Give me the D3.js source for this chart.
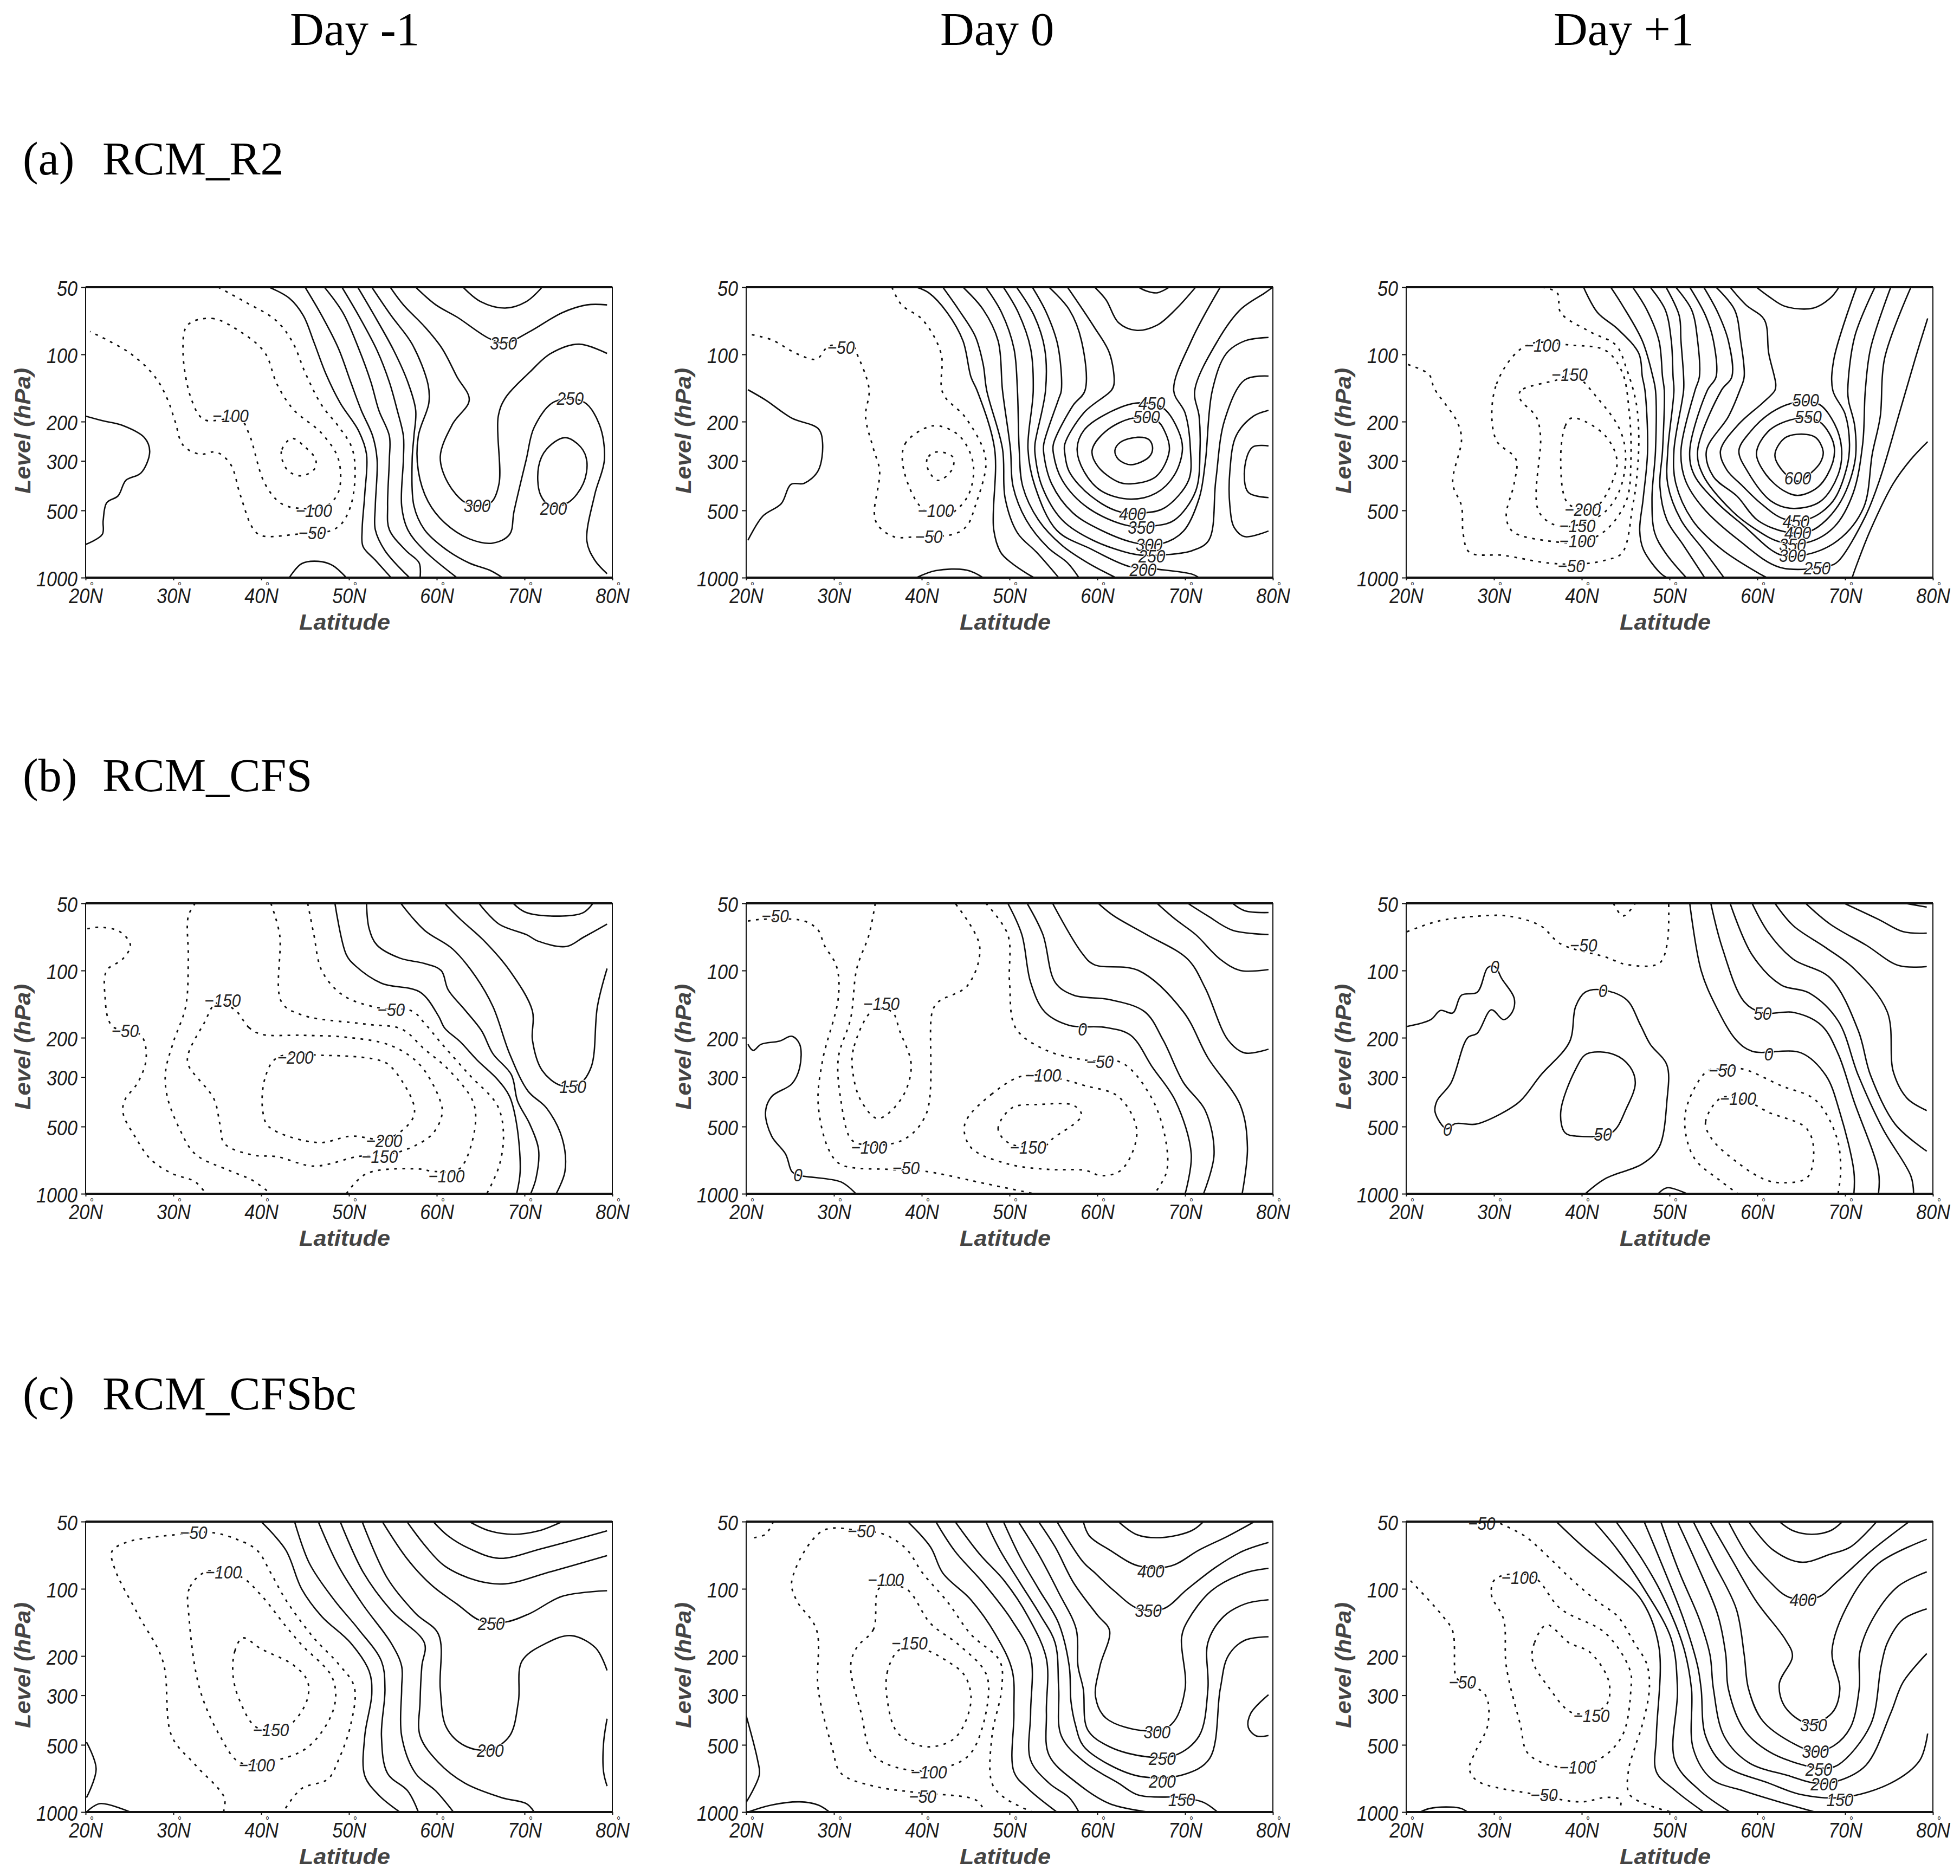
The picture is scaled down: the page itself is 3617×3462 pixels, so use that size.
<!DOCTYPE html>
<html>
<head>
<meta charset="utf-8">
<script src="https://cdn.jsdelivr.net/npm/d3@7"></script>
<style>
  html, body { margin: 0; padding: 0; background: #fff; }
  svg { display: block; }
</style>
</head>
<body>
<div id="chart"></div>
<script>
const dayLabels = ["Day -1", "Day 0", "Day +1"];
const rowLabels = ["(a)", "(b)", "(c)"];
const runLabels = ["RCM_R2", "RCM_CFS", "RCM_CFSbc"];
const levelTicks = [50, 100, 200, 300, 500, 1000];
const latTicks = [20, 30, 40, 50, 60, 70, 80];

// contours are [latitude, level hPa]
const a1Solid = [
  [[20,189],[21.9,198],[24.2,208],[26.7,236],[27.3,273],[26.3,340],[24.6,366],[23.7,430],[22.4,462],[22,555],[21.9,640],[20,710]],
  [[43.2,1000],[44.6,866],[46.5,845],[48.1,880],[49.7,1000]],
  [[40.9,50],[43.2,56],[44.8,67],[46,88],[47.4,123],[49,165],[51.1,220],[52,280],[51.8,422],[51.5,610],[51.6,725],[53,835],[54.8,1000]],
  [[45,50],[46.9,67],[48.8,94],[50.2,133],[51.4,178],[52.7,232],[53.2,295],[53,477],[53,610],[54.1,757],[56.9,1000]],
  [[47.2,50],[49.3,65],[51.1,94],[52.5,133],[53.4,178],[54.6,232],[54.6,295],[54.4,477],[54.6,610],[56.5,757],[58,860],[58.1,1000]],
  [[49.2,50],[51.1,67],[53.2,96],[54.6,133],[55.5,178],[56.2,232],[56.2,295],[56,477],[56.7,610],[58.6,757],[62.3,1000]],
  [[51,50],[52.7,65],[55.1,96],[56.7,133],[57.6,178],[57.4,232],[57.2,295],[57.4,477],[58.6,610],[60.9,740],[63.7,860],[66,925],[67.5,1000]],
  [[52.6,50],[54.8,67],[57.2,90],[59,136],[59.1,165],[57.9,232],[57.9,333],[59,455],[60.9,568],[63.7,670],[66.4,700],[68.3,640],[68.8,505],[70.2,295],[71.1,212],[73.4,163],[76.7,163],[78.5,205],[79.1,295],[78,424],[77.1,685],[78,835],[79.4,960]],
  [[54.7,50],[56.2,60],[58.6,75],[60.6,94],[62.3,126],[63.7,160],[61.8,205],[60.4,287],[61.3,378],[63.2,460],[64.6,477],[66.2,460],[67.1,378],[67,190],[67.8,157],[70.6,120],[73,99],[76.2,90],[79.4,99]],
  [[57.6,50],[59.9,60],[62.3,68],[66,85],[67.8,89],[70.6,79],[74.3,65],[77.1,60],[79.4,60]],
  [[63,50],[65,58],[67.8,62],[70.2,58],[72,50]]
];
const a1SolidLoops = [
  [[74.6,236],[72.5,266],[71.6,318],[71.8,424],[73,477],[75,460],[76.7,378],[77.1,302],[76.4,260]]
];
const a1Dotted = [
  [[35.1,50],[38.1,58],[41.6,70],[43.5,87],[45.1,123],[46.9,169],[48.8,210],[50.3,260],[50.7,333],[50.2,477],[49,582],[47.4,625],[44.6,636],[40,648],[39,597],[37.6,424],[36.5,310],[34.9,274],[33,280],[31.1,255],[30.2,200],[29.3,158],[27.9,126],[25.1,99],[20.5,79]]
];
const a1DottedLoops = [
  [[31.6,74],[34.4,69],[37.6,79],[40.4,98],[41.8,136],[43.7,177],[46.9,226],[48.8,295],[48.8,414],[47.4,477],[44.6,490],[42.3,466],[40.4,378],[38.6,226],[37.6,195],[33.5,196],[32.1,161],[31.1,98]],
  [[43.5,238],[42.3,272],[43,330],[44.6,350],[46.1,325],[46.2,295],[45,260]]
];
const a1Labels = [[67.6,89,"350"],[75.2,157,"250"],[64.6,477,"300"],[73.3,490,"200"],[36.5,188,"−100"],[46,500,"−100"],[45.8,630,"−50"]];

const a2Solid = [
  [[20.2,144],[22.2,160],[25.2,193],[28.2,215],[28.7,248],[28.2,332],[26.6,378],[25.1,382],[24,466],[21.9,530],[20.2,680]],
  [[39.4,1000],[41.6,930],[45.1,925],[47,1000]],
  [[39.4,50],[40.8,53],[42.9,65],[44.7,87],[45.6,126],[46.3,145],[48.3,265],[48.2,610],[49,771],[50.2,858],[52,960],[52.8,1000]],
  [[42.4,50],[44.2,63],[46.1,83],[47,111],[47.4,145],[49.2,265],[49.5,441],[50.9,630],[53.1,771],[55.6,1000]],
  [[44.7,50],[47,63],[48.7,87],[49.2,145],[50.1,265],[50.4,390],[51.9,552],[54.4,735],[56.6,858],[57.9,1000]],
  [[47.3,50],[49.1,65],[50.5,94],[50.9,145],[51.1,265],[51.5,390],[53.3,552],[56,718],[58.9,858],[62.1,1000]],
  [[49.3,50],[51,65],[52.4,94],[52.7,145],[52.1,265],[52.9,390],[55.4,615],[59.3,745],[63.6,890],[66.7,915],[70.8,965],[71.6,1000]],
  [[50.8,50],[52.8,67],[54,94],[54.1,145],[52.9,252],[52.9,278],[53.7,390],[56,552],[59.5,680],[64.6,790],[67.7,790],[70.8,757],[72.7,680],[73.5,366],[74.5,197],[76.8,130],[79.5,125]],
  [[52.6,50],[54.2,65],[55.5,91],[55.9,145],[55.6,158],[53.9,252],[53.9,278],[54.8,380],[57.2,512],[60.5,615],[64.4,700],[67.3,705],[69.8,620],[71.6,441],[72.3,304],[73.1,145],[74.7,99],[76.8,87],[79.5,84]],
  [[54.5,50],[56.8,63],[58.2,87],[58.6,145],[57.2,170],[55,252],[55,278],[56,366],[58.9,486],[63.5,585],[66.7,585],[68.8,552],[71.2,410],[71.7,265],[71.6,190],[71.1,145],[73.7,87],[76.3,63],[79.1,53],[80,50]],
  [[56.6,50],[59.6,75],[61.4,99],[61.9,136],[61.6,145],[58.5,182],[56.3,252],[56.3,278],[56.8,335],[59.3,432],[62.6,508],[65.5,512],[67.7,486],[70.4,366],[70.6,265],[70,183],[68.7,145],[70.7,87],[74,50]],
  [[59.7,50],[61,57],[62.4,72],[64.4,78],[66.8,74],[68.9,63],[71.2,50]],
  [[64.7,50],[65.6,52],[66.8,53],[68.2,50]],
  [[79.5,178],[77.7,190],[75.8,232],[75.1,333],[75.1,477],[75.6,597],[76.8,655],[79.5,618]],
  [[79.5,257],[77.7,260],[76.8,318],[77.2,415],[79.5,438]]
];
const a2SolidLoops = [
  [[62,270],[62.6,248],[64.6,235],[65.9,241],[66.3,263],[65.9,288],[63.8,312],[62.4,295]],
  [[59.4,270],[60.1,319],[62.4,373],[63.8,380],[66.7,352],[68.2,270],[67.7,222],[66.7,197],[64,193],[60.9,222]],
  [[57.7,265],[58.5,335],[60.5,410],[63.8,445],[66.7,418],[68.8,346],[69.7,265],[69.2,218],[67.5,174],[64.6,165],[61.6,180],[58.5,218]]
];
const a2Dotted = [
  [[36.6,50],[37.7,60],[40.1,70],[42.2,99],[42.4,149],[44.9,190],[47,265],[47.3,318],[46.1,477],[45.2,582],[43.8,636],[39.6,655],[36.8,655],[35,582],[34.6,515],[35.2,333],[34.5,265],[33.6,190],[34,143],[32.6,99],[32.2,92],[29.4,92],[28,105],[25.7,99],[22.9,86],[20.2,81]]
];
const a2DottedLoops = [
  [[41.2,209],[38.2,248],[37.8,302],[39.1,435],[40.5,505],[42.9,525],[45.2,435],[45.9,318],[44.9,248],[43.5,220]],
  [[41.5,274],[40.6,295],[40.8,333],[41.9,367],[43.5,325],[43.5,287]]
];
const a2Labels = [[30.8,93,"−50"],[66.2,165,"450"],[65.6,190,"500"],[64,518,"400"],[65,595,"350"],[65.9,710,"300"],[66.2,798,"250"],[65.2,920,"200"],[41.6,500,"−100"],[40.8,655,"−50"]];

const a3Solid = [
  [[40.2,50],[41.8,65],[44.1,77],[46.5,99],[46.9,126],[47.2,145],[47.5,270],[47,441],[46.6,615],[47,745],[48.9,950],[49.7,1000]],
  [[43.3,50],[44.6,60],[46.9,87],[48.1,126],[48.4,145],[48.4,270],[48,441],[48.3,628],[49.5,771],[51.9,1000]],
  [[45.8,50],[47.4,63],[48.8,87],[49.2,126],[49.4,145],[49.2,270],[48.9,390],[49.7,552],[51.6,718],[54,1000]],
  [[47.8,50],[49.5,63],[50.2,87],[50.4,126],[50.5,145],[49.8,270],[49.8,383],[51.3,552],[53.8,745],[56.2,1000]],
  [[49.6,50],[51.1,67],[51.3,87],[51.6,126],[51.6,145],[50.5,270],[50.7,377],[52.6,552],[55.9,745],[60.4,968],[61.1,1000]],
  [[50.7,50],[52.5,63],[53.2,87],[53.4,126],[52.9,145],[51.3,270],[51.8,366],[53.8,486],[57.9,680],[62.6,900],[68.2,885],[69.2,845],[72.3,532],[74,358],[76.2,182],[78,104],[79.4,69]],
  [[52.3,50],[54.1,67],[55,87],[55.3,126],[54.3,145],[52.3,270],[52.8,346],[55.5,465],[58.3,578],[62.6,790],[65.5,790],[69.2,680],[72.1,486],[73.1,278],[74,190],[74.5,104],[77.5,50]],
  [[53.9,50],[55.5,65],[56.7,87],[57.1,126],[55.9,145],[53.2,270],[53.8,346],[57.1,502],[59.6,600],[62.6,692],[65.9,692],[68.8,590],[70.9,420],[72,252],[72.3,145],[72.9,94],[75.2,50]],
  [[55.3,50],[57.4,63],[58.1,87],[58.5,126],[58,145],[56.7,190],[54.2,270],[55,353],[57.7,432],[60,552],[63.3,625],[66.1,618],[69.2,476],[71.1,304],[71.1,210],[70.4,162],[70.3,145],[71.1,83],[73.4,50]],
  [[56.9,50],[58.7,60],[60.8,70],[61.3,99],[62.1,136],[62,145],[60.6,165],[57.9,205],[55.8,270],[56.5,328],[58.3,388],[60.4,465],[63,545],[65.9,545],[68.6,455],[70.2,320],[70.5,252],[70,185],[68.6,145],[68.7,106],[71.3,50]],
  [[59.9,50],[61.3,55],[63.2,61],[66.4,62],[68.3,56],[69.3,50]],
  [[70.8,1000],[71.3,880],[72.9,610],[75.5,378],[77.5,295],[79.4,246]]
];
const a3SolidLoops = [
  [[57.9,270],[58.9,335],[61.6,455],[64.1,490],[67.2,455],[69.2,346],[69.6,265],[68.8,205],[67,167],[64.1,165],[61.6,182],[59.2,222]],
  [[59.9,278],[61,346],[63.1,410],[64.7,428],[67,390],[68.6,304],[68.7,252],[67.4,205],[66.1,193],[63.7,197],[61.2,222]],
  [[62,283],[63.1,340],[64.7,370],[66.1,340],[67.2,304],[67.5,272],[66.6,235],[64.5,228],[63,239]]
];
const a3Dotted = [
  [[35.5,50],[37.2,53],[37.6,65],[40.9,79],[43.9,91],[45.1,116],[46.2,165],[46.5,242],[46.2,378],[45.8,477],[44.6,775],[42.7,835],[40,868],[36.2,860],[31.1,795],[27.2,770],[26.5,640],[26.3,477],[25.3,378],[26.3,240],[25.8,200],[23.2,142],[22.6,123],[20.2,111]]
];
const a3DottedLoops = [
  [[33.7,91],[30.2,139],[30.2,240],[32.5,295],[32.3,378],[31.4,530],[32.1,620],[36.2,685],[40,690],[42.7,615],[45.1,450],[45.6,295],[45.4,180],[44.6,120],[42.7,96],[38.9,91]],
  [[37.2,130],[33,146],[33,159],[34.8,190],[35.3,232],[35.1,505],[37.6,590],[42,530],[44.1,424],[45,295],[44.4,220],[41.8,157],[39,123]],
  [[38.8,193],[38.1,210],[37.6,295],[38.3,458],[40,495],[41.8,477],[43.9,333],[43.9,283],[42.7,232],[40.4,200]]
];
const a3Labels = [[35.5,91,"−100"],[38.6,123,"−150"],[65.5,160,"500"],[65.8,190,"550"],[64.6,358,"600"],[64.4,560,"450"],[64.6,630,"400"],[64,710,"350"],[64,795,"300"],[66.8,905,"250"],[40.1,495,"−200"],[39.5,585,"−150"],[39.5,685,"−100"],[38.8,885,"−50"]];

const b1Solid = [
  [[48.4,50],[49.7,85],[50.7,95],[53.7,114],[58.1,125],[60.2,160],[60.9,181],[62.7,209],[64.6,252],[66.9,307],[68.3,367],[69.1,488],[69.5,795],[69.1,1000]],
  [[52,50],[52.3,65],[53.2,77],[55.8,88],[58.6,93],[60.5,100],[61.3,122],[63.2,150],[65.1,186],[66.4,236],[68.5,293],[69.2,384],[70.6,488],[71.6,636],[71.3,855],[70.7,1000]],
  [[55.9,50],[58.6,66],[61.8,80],[64.4,106],[66.4,145],[68.3,236],[70.4,347],[72.5,413],[74.3,567],[74.6,795],[73.6,1000]],
  [[60.9,50],[62.7,59],[65.3,73],[68.3,100],[70.9,152],[70.9,205],[72,280],[74.1,327],[76.2,323],[77.6,270],[78.3,145],[79.4,98]],
  [[64.8,50],[67.1,62],[70.2,69],[71.6,74],[74.8,78],[76.7,71],[79.4,62]],
  [[68.7,50],[70.2,55],[74.3,57],[76.7,55],[77.8,50]]
];
const b1SolidLoops = [];
const b1Dotted = [
  [[20.2,65],[21.6,64],[23.9,67],[25.1,77],[24.2,89],[22.4,100],[22.2,129],[23,177],[26.3,195],[26.9,247],[26,315],[24.4,385],[24.3,441],[25.6,552],[27.4,700],[29.8,810],[32.5,885],[33.7,1000]],
  [[32.5,50],[31.7,57],[31.7,89],[31.4,145],[30,209],[29.1,285],[29.3,367],[30.7,512],[32.5,665],[36.3,785],[39,870],[41.1,1000]],
  [[45.3,50],[46,69],[46.9,100],[49.3,129],[53.4,147],[57.2,152],[58.6,172],[60.4,209],[63.7,293],[66.9,402],[67.6,540],[67.1,752],[65.7,1000]],
  [[41.1,50],[42.1,69],[42.3,138],[44.6,158],[52,174],[56,183],[58.6,225],[61.3,277],[64.1,384],[64.4,488],[63.2,720],[62.3,785],[59.5,793],[58.1,775],[52,812],[49.7,1000]]
];
const b1DottedLoops = [
  [[37,150],[38.6,180],[40,193],[44.6,195],[49.7,199],[54.8,217],[58.1,265],[60.4,384],[60.6,441],[59.5,540],[56.7,630],[53.9,670],[51.1,680],[46,752],[41.8,682],[39,670],[35.8,595],[35.3,488],[34.6,375],[31.7,265],[31.7,236],[33.5,172],[34.9,140]],
  [[41.8,246],[40.4,307],[40.2,432],[40.9,502],[46.5,590],[50.2,552],[54.4,567],[57.2,465],[57.4,402],[54.8,270],[53.4,252],[47.4,240]]
];
const b1Labels = [[24.5,186,"−50"],[35.6,136,"−150"],[54.8,150,"−50"],[43.9,244,"−200"],[75.5,330,"150"],[54,578,"−200"],[53.5,682,"−150"],[61.1,830,"−100"]];

const b2Solid = [
  [[20.2,214],[20.8,228],[21.7,214],[23.8,207],[25.2,197],[26.1,214],[26.1,272],[25.2,322],[22.9,367],[22.2,432],[22.9,552],[24.5,665],[25.2,795],[25.9,825],[30.8,885],[32.5,1000]],
  [[49.8,50],[51.4,69],[52.4,113],[54,153],[56.8,176],[61,180],[63.8,195],[66.3,272],[68.9,384],[70.7,665],[70,1000]],
  [[52,50],[53.8,69],[55.2,113],[57.3,129],[61.4,135],[65.4,153],[67.5,205],[69.8,317],[72.3,424],[73.3,665],[72.1,1000]],
  [[54.9,50],[58.2,83],[59.6,94],[64.7,100],[69.8,153],[72.6,246],[76.3,402],[77.1,620],[76.5,1000]],
  [[60.1,50],[61.9,57],[65.6,69],[70.3,89],[72.3,120],[74.9,205],[76.8,234],[79.5,225]],
  [[66.8,50],[68.9,59],[71.2,69],[74,89],[76.3,100],[79.5,99]],
  [[70.3,50],[72.6,57],[75.4,66],[79.5,69]],
  [[75.4,50],[76.8,54],[79.5,55]]
];
const b2SolidLoops = [];
const b2Dotted = [
  [[20.2,60],[21.7,59],[26.6,60],[28.2,66],[28.9,77],[30.3,96],[30.5,132],[28.7,253],[28.2,395],[29.4,634],[30.8,740],[36.3,778],[40.1,790],[47.5,905],[52.8,1000]],
  [[34.7,50],[34,69],[32.6,98],[31.9,164],[30.5,246],[30.8,384],[31.9,567],[33.1,600],[37.7,578],[40.5,440],[41.2,153],[41.9,138],[45.2,117],[46.6,78],[43.8,50]],
  [[47.3,50],[49.8,69],[50,113],[50.7,181],[54,226],[58.6,252],[62.8,259],[66.1,367],[67.7,552],[67.9,795],[66.5,1000]]
];
const b2DottedLoops = [
  [[34.5,150],[32.2,226],[32.2,295],[33.1,384],[35,460],[37.7,374],[38.8,266],[37.5,187],[36.6,153]],
  [[51.7,295],[48,357],[44.9,488],[45.6,620],[49.8,735],[54.5,778],[58.6,785],[60.5,830],[62.8,778],[64.5,525],[62.4,367],[58.6,328],[55.6,305]],
  [[50,595],[48.7,512],[50.3,412],[53.5,398],[57.3,402],[58.2,446],[54.9,567],[54,610]]
];
const b2Labels = [[23.3,57,"−50"],[35.4,141,"−150"],[58.3,183,"0"],[60.3,256,"−50"],[53.8,295,"−100"],[34,620,"−100"],[52.1,620,"−150"],[38.2,765,"−50"],[25.9,825,"0"]];

const b3Solid = [
  [[20.1,178],[22.8,166],[23.9,151],[25.3,155],[26.3,129],[28.1,125],[29.3,97],[30.1,96],[30.9,109],[32.3,133],[32.1,153],[31.1,166],[29.7,150],[28.1,191],[27,200],[25.1,319],[23.5,384],[23.3,432],[24.6,512],[25.6,485],[27.9,488],[30.7,440],[33,384],[35.3,295],[38.6,209],[39.3,145],[40.4,125],[42.3,122],[45.1,135],[46.7,176],[47.8,214],[49.7,265],[49.7,384],[48.8,620],[46.9,735],[42.7,855],[40.4,1000]],
  [[48.7,1000],[49.7,940],[52,1000]],
  [[52.3,50],[53.6,100],[55.3,145],[57.6,205],[59.4,230],[65,234],[67.8,295],[69.4,432],[71,795],[71,1000]],
  [[54.7,50],[56,79],[58.5,138],[60.6,155],[64.1,154],[67.3,176],[69.2,236],[71,384],[73.8,795],[73.8,1000]],
  [[56.9,50],[59.4,85],[62.7,116],[65.9,126],[69.2,168],[71.5,295],[74.3,512],[77.5,835],[77.8,1000]],
  [[59.4,50],[61.3,68],[64.1,89],[68.3,108],[71.5,186],[72.9,295],[75.7,488],[79.3,645]],
  [[62,50],[64.1,63],[67.8,79],[71,98],[74.8,153],[75.5,285],[77.1,375],[79.3,424]],
  [[65.5,50],[68.3,62],[72.4,77],[76.1,95],[79.3,96]],
  [[69.9,50],[73.8,59],[76.6,67],[79.3,68]],
  [[76.8,50],[79.3,52]]
];
const b3SolidLoops = [
  [[40.6,236],[39.3,277],[37.6,432],[38.1,533],[39.5,552],[43.4,533],[45.1,413],[46.1,319],[45.5,270],[43.7,238]]
];
const b3Dotted = [
  [[20.1,67],[23.7,60],[28.4,57],[31.6,57],[35.3,63],[37.6,76],[42.7,87],[45.1,94],[48.8,93],[49.7,77],[49.9,50]],
  [[43.6,50],[44.7,57],[46.1,50]],
  [[69.2,1000],[69.5,778],[69,552],[66.6,380],[62.7,328],[58.3,276],[56,277],[54.3,282],[52,402],[51.8,525],[52.9,700],[55.7,870],[57.8,1000]]
];
const b3DottedLoops = [
  [[56,370],[54.1,477],[54.8,567],[57.6,718],[60.8,862],[62.9,893],[65.7,845],[66.4,620],[65.5,505],[61.3,432],[59.4,395]]
];
const b3Labels = [[40.2,77,"−50"],[30.1,96,"0"],[42.4,123,"0"],[60.6,156,"50"],[61.3,237,"0"],[56,280,"−50"],[57.8,375,"−100"],[24.7,515,"0"],[42.4,540,"50"]];

const c1Solid = [
  [[20.1,486],[21.2,641],[20.1,862]],
  [[20.1,1000],[21.6,917],[25.1,1000]],
  [[40,50],[42.8,67],[44.6,100],[46.9,133],[50.2,175],[52.3,234],[52.6,295],[51.8,456],[51.8,688],[53.4,840],[55.8,1000]],
  [[43.8,50],[45.5,77],[48.3,112],[51.1,152],[53.7,211],[54.1,281],[53.7,456],[54.4,672],[56.7,805],[57.9,1000]],
  [[46.5,50],[48.8,79],[51.6,118],[54.8,175],[56,222],[56,281],[56,456],[57.6,672],[59.9,805],[61.9,1000]],
  [[49,50],[51.6,84],[54.8,125],[58.6,175],[58.3,222],[58.1,320],[58.1,456],[60.2,600],[63.2,742],[67.4,862],[70.2,917],[71.1,1000]],
  [[51.5,50],[54.4,90],[57.6,129],[60.2,160],[60.4,281],[61.1,418],[63.2,505],[66,526],[68.3,456],[69.3,320],[69.7,211],[72.5,175],[75.3,162],[78.1,184],[79.4,232]],
  [[53.8,50],[56.7,74],[59.5,97],[62.3,117],[65,139],[67.8,141],[70.6,129],[74.3,108],[79.4,102]],
  [[56.6,50],[58.8,65],[60.9,79],[64.6,92],[67.8,95],[72.9,84],[79.4,71]],
  [[59.6,50],[61.3,58],[63.7,66],[67.1,73],[72,66],[79.4,55]],
  [[63.7,50],[66,55],[68.8,57],[71.6,55],[74.3,50]],
  [[79.4,382],[79,492],[79,660],[79.4,765]]
];
const c1SolidLoops = [];
const c1Dotted = [
  [[35.7,1000],[35.8,862],[32.5,615],[29.8,456],[28.8,211],[26,131],[23.3,81],[23,68],[24.6,62],[30.7,57],[34.4,56],[37.2,60],[39.5,67],[41.1,85],[42.8,112],[46,166],[48.8,217],[50.6,275],[50.2,406],[48.8,585],[47.6,712],[44.6,785],[42.5,1000]]
];
const c1DottedLoops = [
  [[33.7,84],[31.8,100],[31.8,137],[33,281],[35.3,456],[37.6,600],[41.8,585],[45.5,505],[48.3,340],[48.1,250],[44.6,178],[42.8,147],[40,107],[37.6,88]],
  [[37.9,166],[37,190],[36.8,246],[37.6,320],[39.5,418],[42.8,418],[45.1,325],[45.3,261],[43.7,220],[40,186]]
];
const c1Labels = [[32.3,56,"−50"],[35.7,84,"−100"],[41.1,428,"−150"],[39.5,615,"−100"],[66.2,143,"250"],[66.1,530,"200"]];

const c2Solid = [
  [[20,370],[21.3,585],[21.5,680],[20,905]],
  [[20.2,1000],[22.9,930],[26.1,900],[28.2,930],[29.5,1000]],
  [[38.4,50],[41,65],[42.4,85],[45.6,112],[48.4,160],[50.3,232],[50.5,360],[50.5,660],[52.1,785],[55.4,1000]],
  [[41.6,50],[43.8,68],[47,94],[50.3,139],[52.4,200],[52.4,360],[52.4,585],[54.5,742],[56.8,862],[57.9,1000]],
  [[43.8,50],[46.6,70],[49.4,92],[52.1,133],[54.2,206],[54.2,360],[54.5,556],[57.7,742],[61.4,917],[65.8,1000]],
  [[47.3,50],[48.9,67],[51.2,94],[53.5,131],[55.2,175],[55.6,281],[55.9,456],[58.6,600],[62.4,742],[64.7,840],[69.8,862],[72.1,905],[73.7,1000]],
  [[49.3,50],[51.2,72],[53.3,100],[55.6,143],[56.8,222],[57,320],[57.5,406],[58.4,505],[61.4,615],[65.1,695],[69.8,680],[72.8,575],[74,281],[74.9,200],[76.8,170],[79.5,164]],
  [[51,50],[53.3,70],[55.6,104],[57.6,152],[57.8,222],[58.4,281],[58.9,428],[61.4,510],[65.6,565],[68.9,556],[71.6,456],[72.6,281],[72.6,174],[74.4,133],[76.8,117],[79.5,112]],
  [[53.3,50],[55.2,65],[57.3,94],[60,131],[61.4,154],[60.3,222],[59.8,305],[61,380],[65.6,433],[68.4,406],[70,281],[69.6,165],[70.3,139],[73,102],[76.8,85],[79.5,81]],
  [[55.4,50],[58.4,76],[59.6,84],[61.9,102],[64.7,123],[67.5,123],[70.3,100],[73.5,80],[76.5,68],[79.5,62]],
  [[58.4,50],[59.1,58],[61.4,67],[64.7,79],[68.4,79],[71.6,67],[74.9,58],[77.9,50]],
  [[62.4,50],[64.4,57],[67.2,59],[70.7,55],[72.1,50]],
  [[79.5,298],[77.5,360],[77.2,418],[78.1,456],[79.5,454]]
];
const c2SolidLoops = [];
const c2Dotted = [
  [[20.9,59],[22.2,57],[23.1,50]],
  [[46.9,950],[46.1,880],[39.1,815],[34.5,765],[30.8,670],[29.8,515],[28.2,281],[28,152],[25.7,112],[25.2,92],[28.7,55],[33.1,55],[35.7,57],[38.2,66],[40.1,85],[42.9,114],[45.6,160],[48.9,211],[49.1,281],[48,456],[48,742],[49.4,862],[52.6,1000]]
];
const c2DottedLoops = [
  [[35.2,99],[34.5,152],[32.6,183],[31.9,222],[33.1,360],[34.5,556],[38.7,650],[42.9,628],[45.6,544],[47.5,325],[47.3,239],[44.2,178],[41,143],[38.2,100]],
  [[37.5,187],[36.1,234],[36.1,320],[37.3,444],[40.5,510],[43.8,465],[45.6,320],[44.9,245],[42.9,211],[40.1,186]]
];
const c2Labels = [[33.1,55,"−50"],[35.9,91,"−100"],[38.6,175,"−150"],[66.1,83,"400"],[65.8,125,"350"],[66.8,437,"300"],[67.4,575,"250"],[67.4,728,"200"],[69.6,880,"150"],[40.8,660,"−100"],[40.1,850,"−50"]];

const c3Solid = [
  [[21.6,1000],[22.6,965],[25.1,950],[26.3,965],[27,1000]],
  [[37.1,50],[40,64],[43.7,85],[46.9,114],[48.8,183],[48.5,456],[48.5,660],[50.6,798],[53.9,1000]],
  [[41.4,50],[44.1,67],[47.1,100],[50.2,168],[50.9,281],[50.6,587],[53.4,798],[56.9,1000]],
  [[43.9,50],[46.9,74],[49.2,107],[51.6,183],[52.5,281],[52.7,520],[54.8,712],[58.5,805],[62.7,905],[66.6,1000]],
  [[47.1,50],[49.2,79],[51.6,137],[53.2,222],[53.6,281],[54.1,456],[56.2,615],[61.3,742],[65,835],[69.7,860],[75.2,742],[78.5,587],[79.4,445]],
  [[49,50],[51.1,84],[53.4,137],[54.6,197],[55,281],[56.2,456],[59,600],[63.6,688],[66.6,742],[69.2,725],[72.4,615],[75.2,360],[76.6,262],[79.3,195]],
  [[50.9,50],[53.2,79],[55.5,131],[56.4,197],[56.7,281],[58.5,428],[61.3,535],[65.5,620],[67.3,636],[69.2,615],[72.9,406],[74.1,222],[74.8,175],[76.6,137],[79.3,123]],
  [[52.7,50],[55,76],[57.6,123],[58.5,197],[59,281],[60.6,390],[64.1,493],[66.6,535],[68.7,505],[70.6,418],[71.6,281],[71.7,190],[73.4,131],[76.1,97],[79.3,84]],
  [[54.6,50],[57.1,74],[59.9,114],[63.2,169],[64,200],[62.5,267],[63.2,340],[65.9,402],[68.5,360],[69.4,281],[68.5,190],[70.6,112],[73.8,77],[79.3,60]],
  [[56.7,50],[59,72],[61.3,92],[63.6,109],[66.9,109],[69.2,92],[72.9,68],[77.3,50]],
  [[59,50],[61.8,67],[65,76],[68.3,70],[70.6,65],[73.6,50]],
  [[62.5,50],[64.1,55],[66.2,57],[68.3,55],[69.7,50]]
];
const c3SolidLoops = [];
const c3Dotted = [
  [[20.5,92],[24.2,133],[25.3,155],[25.7,250],[26.3,260],[29,298],[29.3,406],[27.9,535],[27.2,640],[28.1,725],[34.4,830],[40,900],[42.7,860],[44.4,880],[44.4,950]],
  [[30.7,51],[33.5,58],[36.2,72],[39,92],[41.8,114],[44.1,133],[46,175],[47.4,217],[47.7,281],[46.9,406],[46,520],[45.3,660],[45.5,840],[50.2,1000]]
];
const c3DottedLoops = [
  [[30.2,90],[29.7,106],[31.1,137],[31.4,222],[33,406],[33.9,548],[37.6,630],[41.8,585],[44.6,456],[45.6,281],[45.5,232],[42.7,158],[37.6,123],[34.4,88]],
  [[36,145],[34.6,175],[34.4,210],[36.2,275],[39,360],[42.7,335],[43.1,262],[40.9,192],[38.6,175]]
];
const c3Labels = [[28.6,51,"−50"],[32.9,89,"−100"],[65.2,112,"400"],[26.4,262,"−50"],[41.1,370,"−150"],[66.4,406,"350"],[66.6,535,"300"],[67,645,"250"],[67.6,750,"200"],[69.4,880,"150"],[39.5,630,"−100"],[35.7,835,"−50"]];

const panels = [
  {col: 0, row: 0, solid: a1Solid, solidLoops: a1SolidLoops, dotted: a1Dotted, dottedLoops: a1DottedLoops, labels: a1Labels},
  {col: 1, row: 0, solid: a2Solid, solidLoops: a2SolidLoops, dotted: a2Dotted, dottedLoops: a2DottedLoops, labels: a2Labels},
  {col: 2, row: 0, solid: a3Solid, solidLoops: a3SolidLoops, dotted: a3Dotted, dottedLoops: a3DottedLoops, labels: a3Labels},
  {col: 0, row: 1, solid: b1Solid, solidLoops: b1SolidLoops, dotted: b1Dotted, dottedLoops: b1DottedLoops, labels: b1Labels},
  {col: 1, row: 1, solid: b2Solid, solidLoops: b2SolidLoops, dotted: b2Dotted, dottedLoops: b2DottedLoops, labels: b2Labels},
  {col: 2, row: 1, solid: b3Solid, solidLoops: b3SolidLoops, dotted: b3Dotted, dottedLoops: b3DottedLoops, labels: b3Labels},
  {col: 0, row: 2, solid: c1Solid, solidLoops: c1SolidLoops, dotted: c1Dotted, dottedLoops: c1DottedLoops, labels: c1Labels},
  {col: 1, row: 2, solid: c2Solid, solidLoops: c2SolidLoops, dotted: c2Dotted, dottedLoops: c2DottedLoops, labels: c2Labels},
  {col: 2, row: 2, solid: c3Solid, solidLoops: c3SolidLoops, dotted: c3Dotted, dottedLoops: c3DottedLoops, labels: c3Labels}
];

const width = 3617, height = 3462;
const colX = [158, 1377, 2595];
const rowY = [530, 1667, 2808];
const dayX = [535, 1735, 2867];
const rowBase = [322, 1460, 2601];
const panelW = 972, panelH = 536;

const svg = d3.select("#chart").append("svg")
    .attr("width", width)
    .attr("height", height);

svg.selectAll("text.day")
    .data(dayLabels)
    .enter().append("text")
    .attr("class", "day")
    .attr("x", (d, i) => dayX[i])
    .attr("y", 83)
    .style("font", "87px 'Liberation Serif'")
    .text(d => d);

rowLabels.forEach((d, i) => {
  svg.append("text").attr("x", 42).attr("y", rowBase[i])
      .style("font", "86px 'Liberation Serif'").text(d);
  svg.append("text").attr("x", 189).attr("y", rowBase[i])
      .style("font", "86px 'Liberation Serif'").text(runLabels[i]);
});

const x = d3.scaleLinear().domain([20, 80]).range([0, panelW]);
const y = d3.scaleLog().domain([50, 1000]).range([0, panelH]);
const openLine = d3.line().x(d => x(d[0])).y(d => y(d[1])).curve(d3.curveCatmullRom.alpha(0.5));
const loopLine = d3.line().x(d => x(d[0])).y(d => y(d[1])).curve(d3.curveCatmullRomClosed.alpha(0.5));

panels.forEach((p, i) => {
  const g = svg.append("g").attr("transform", `translate(${colX[p.col]},${rowY[p.row]})`);

  g.append("clipPath").attr("id", "clip" + i)
    .append("rect").attr("width", panelW).attr("height", panelH);
  const plot = g.append("g").attr("clip-path", `url(#clip${i})`);

  const draw = (list, gen, dotted) => {
    plot.selectAll(null)
        .data(list)
        .enter().append("path")
        .attr("d", gen)
        .attr("fill", "none")
        .attr("stroke", "#0c0c0c")
        .attr("stroke-width", dotted ? 2.8 : 2.6)
        .attr("stroke-dasharray", dotted ? "5 10" : null);
  };
  draw(p.solid, openLine, false);
  draw(p.solidLoops, loopLine, false);
  draw(p.dotted, openLine, true);
  draw(p.dottedLoops, loopLine, true);

  // glyphs in the picture are narrower than the font, hence the x squeeze
  g.selectAll("text.clabel")
      .data(p.labels)
      .enter().append("text")
      .attr("class", "clabel")
      .attr("transform", d => `translate(${x(d[0])},${y(d[1])}) scale(0.9,1)`)
      .attr("dy", "0.36em")
      .attr("text-anchor", "middle")
      .style("font", "italic 33px 'Liberation Sans'")
      .style("fill", "#222")
      .style("stroke", "#fff")
      .style("stroke-width", 3)
      .style("paint-order", "stroke")
      .text(d => d[2]);

  // frame: top and bottom edges are heavier than the sides
  g.append("rect").attr("width", panelW).attr("height", panelH)
      .attr("fill", "none").attr("stroke", "#111").attr("stroke-width", 2);
  [0, panelH].forEach(v => {
    g.append("line").attr("x1", 0).attr("x2", panelW).attr("y1", v).attr("y2", v)
        .attr("stroke", "#111").attr("stroke-width", 4);
  });

  const yAxis = g.append("g")
      .call(d3.axisLeft(y).tickValues(levelTicks).tickFormat(d3.format("d")).tickSize(8).tickSizeOuter(0));
  yAxis.select(".domain").remove();
  yAxis.selectAll("line").attr("stroke", "#111").attr("stroke-width", 2);
  yAxis.selectAll("text")
      .attr("x", 0)
      .attr("dy", "0.4em")
      .attr("transform", "translate(-15,0) scale(0.9,1)")
      .style("font", "italic 38px 'Liberation Sans'")
      .style("fill", "#1a1a1a");

  const xAxis = g.append("g")
      .attr("transform", `translate(0,${panelH})`)
      .call(d3.axisBottom(x).tickValues(latTicks).tickFormat(d => d).tickSize(5).tickSizeOuter(0));
  xAxis.select(".domain").remove();
  xAxis.selectAll("line").attr("stroke", "#111").attr("stroke-width", 2);
  xAxis.selectAll("text")
      .attr("y", 0)
      .attr("dy", 0)
      .attr("transform", "translate(0,47) scale(0.9,1)")
      .style("font", "italic 38px 'Liberation Sans'")
      .style("fill", "#1a1a1a")
      .each(function(d) {
        const t = d3.select(this).text("");
        t.append("tspan").text(d);
        t.append("tspan").attr("dy", -24).style("font-size", "20px").text("°");
        t.append("tspan").attr("dy", 24).attr("dx", -8).text("N");
      });

  g.append("text")
      .attr("transform", `translate(-102,${panelH / 2 - 3}) rotate(-90)`)
      .attr("text-anchor", "middle")
      .attr("textLength", 232)
      .attr("lengthAdjust", "spacingAndGlyphs")
      .style("font", "italic bold 41px 'Liberation Sans'")
      .style("fill", "#444")
      .text("Level (hPa)");

  g.append("text")
      .attr("x", panelW / 2 - 8)
      .attr("y", panelH + 96)
      .attr("text-anchor", "middle")
      .attr("textLength", 168)
      .attr("lengthAdjust", "spacingAndGlyphs")
      .style("font", "italic bold 41px 'Liberation Sans'")
      .style("fill", "#444")
      .text("Latitude");
});
</script>
</body>
</html>
